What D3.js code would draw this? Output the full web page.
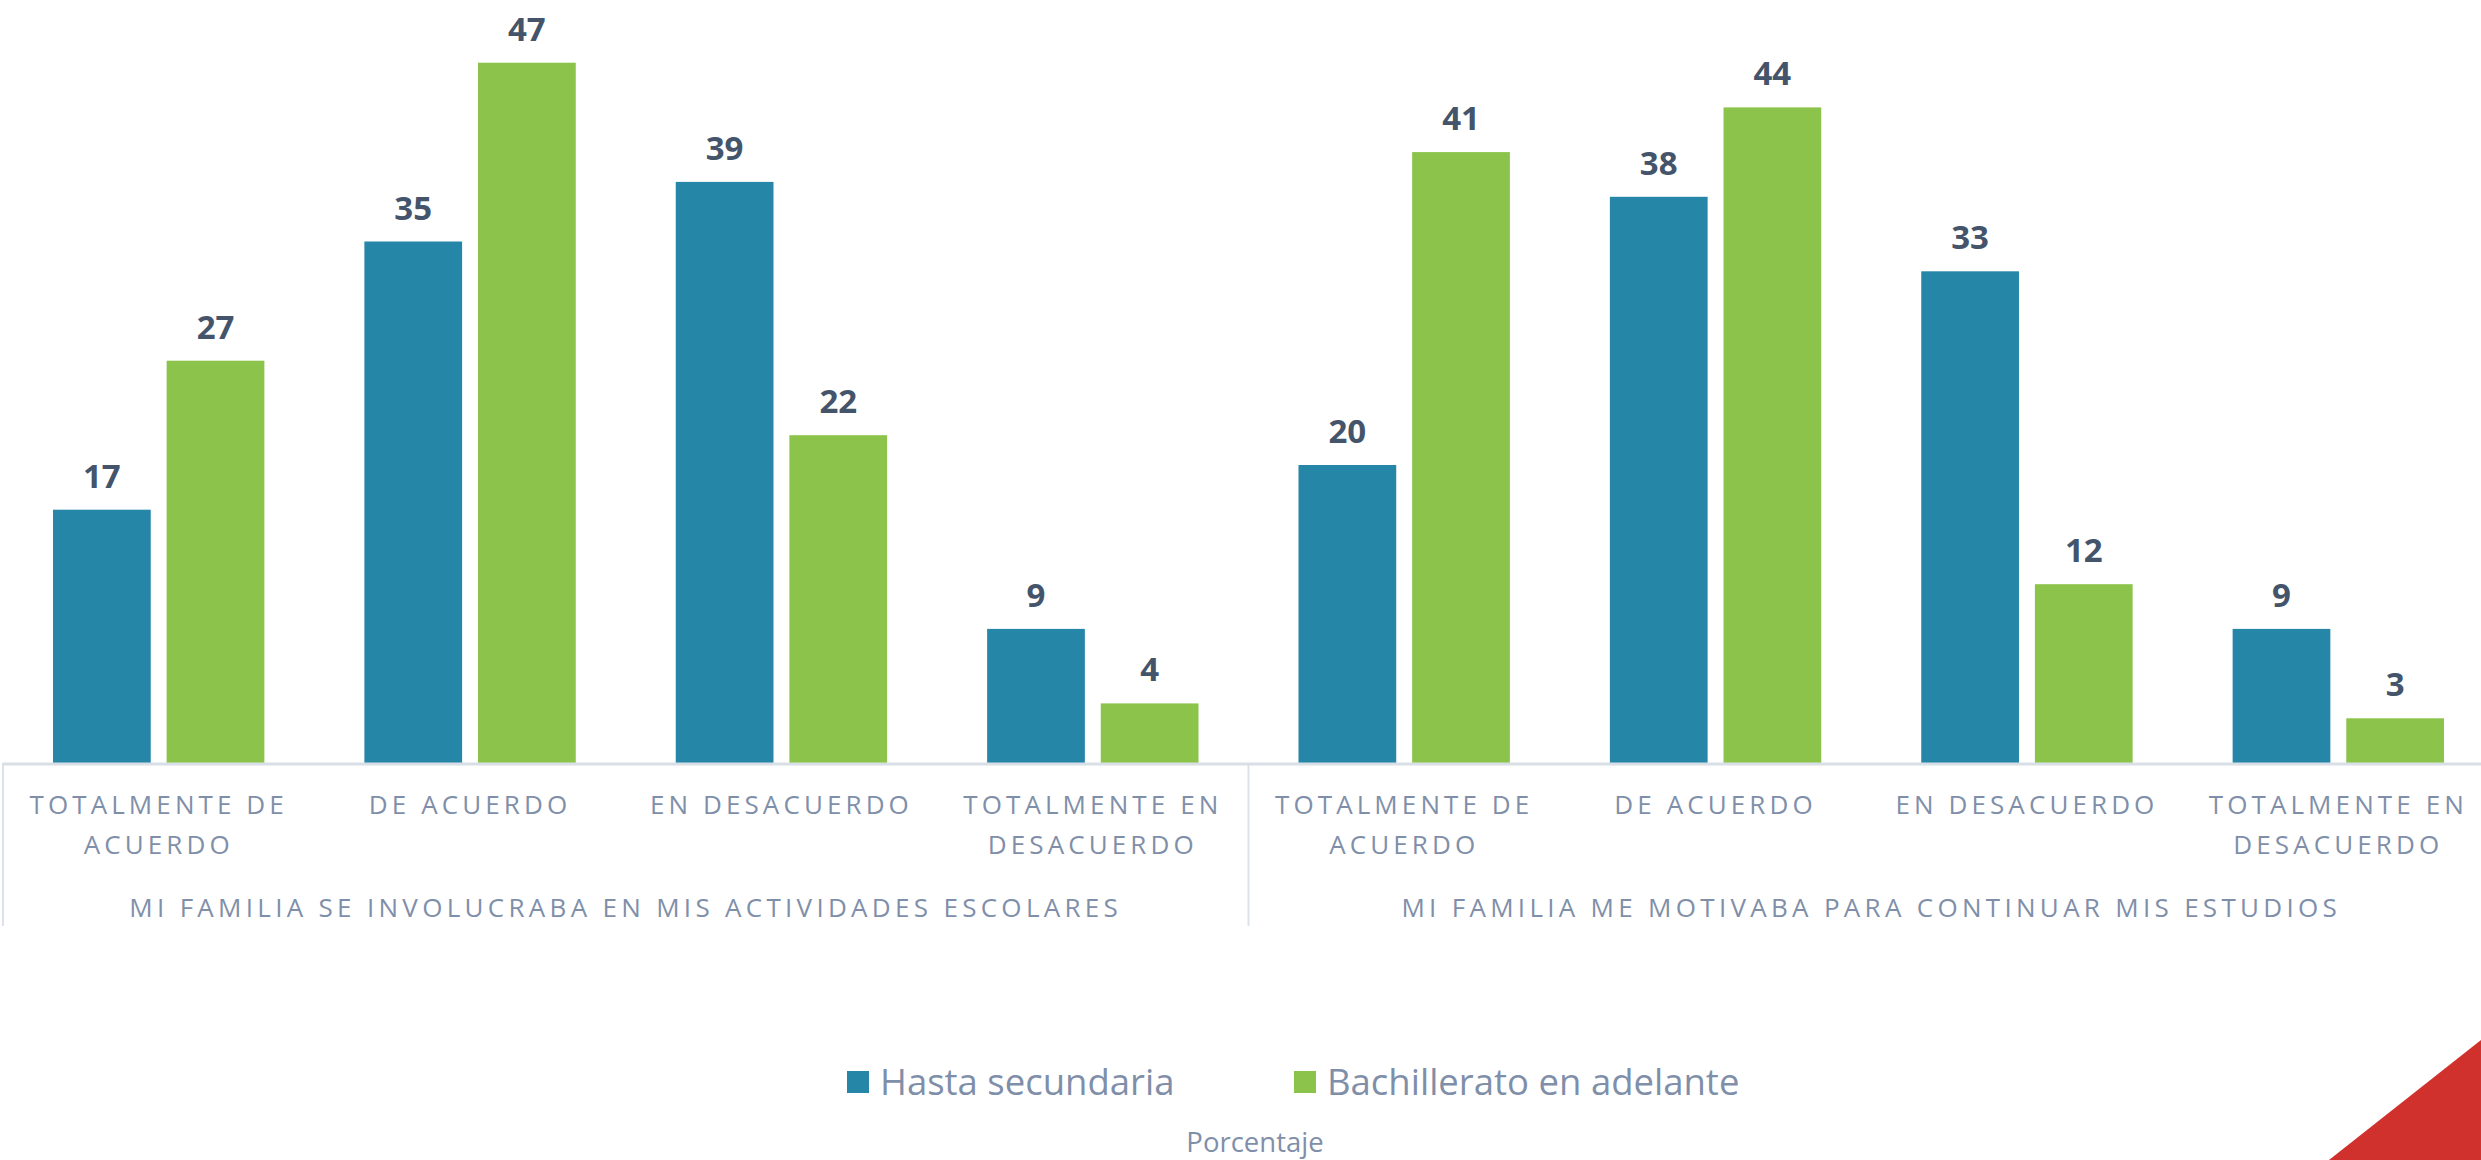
<!DOCTYPE html>
<html><head><meta charset="utf-8">
<script src="https://cdn.jsdelivr.net/npm/d3@7"></script>
<style>html,body{margin:0;padding:0;background:#fff;overflow:hidden}</style>
</head><body>
<svg id="c" width="2481" height="1160"></svg>
<script>
const panels = ["MI FAMILIA SE INVOLUCRABA EN MIS ACTIVIDADES ESCOLARES", "MI FAMILIA ME MOTIVABA PARA CONTINUAR MIS ESTUDIOS"];
const categories = [["TOTALMENTE DE", "ACUERDO"], ["DE ACUERDO"], ["EN DESACUERDO"], ["TOTALMENTE EN", "DESACUERDO"]];
const series = ["Hasta secundaria", "Bachillerato en adelante"];
const hastaSecundaria = [[17, 35, 39, 9], [20, 38, 33, 9]];
const bachillerato = [[27, 47, 22, 4], [41, 44, 12, 3]];
const colors = ["#2586a7", "#8cc34b"];
const footer = "Porcentaje";

const svg = d3.select("#c");
const baseY = 763;
const y = d3.scaleLinear().domain([0, 50]).range([baseY, baseY - 50 * 14.9]);
const xP = d3.scaleBand().domain(d3.range(panels.length)).range([3, 2494]);
const xC = d3.scaleBand().domain(d3.range(categories.length)).range([0, xP.bandwidth()]);
const xS = d3.scaleBand().domain(series).range([50, xC.bandwidth() - 50]).paddingInner(0.14);

const labFont = "'Open Sans', sans-serif";
const labColor = "#7f8fa9";

panels.forEach((p, pi) => {
  const g = svg.append("g").attr("transform", `translate(${xP(pi)},0)`);
  const vals = [hastaSecundaria[pi], bachillerato[pi]];
  categories.forEach((cat, ci) => {
    const cg = g.append("g").attr("transform", `translate(${xC(ci)},0)`);
    series.forEach((s, si) => {
      const v = vals[si][ci];
      cg.append("rect").attr("x", xS(s)).attr("y", y(v)).attr("width", xS.bandwidth())
        .attr("height", y(0) - y(v)).attr("fill", colors[si]);
      cg.append("text").attr("x", xS(s) + xS.bandwidth() / 2).attr("y", y(v) - 22)
        .attr("text-anchor", "middle").attr("font-family", labFont).attr("font-weight", 700)
        .attr("font-size", 33).attr("fill", "#44546a").text(v);
    });
    const t = cg.append("text").attr("x", xC.bandwidth() / 2).attr("y", 814)
      .attr("text-anchor", "middle").attr("font-family", labFont).attr("font-size", 26)
      .attr("letter-spacing", "4.1px").attr("fill", labColor);
    cat.forEach((line, li) => {
      t.append("tspan").attr("x", xC.bandwidth() / 2).attr("dy", li === 0 ? 0 : 39.5).text(line);
    });
  });
  g.append("text").attr("x", xP.bandwidth() / 2).attr("y", 917).attr("text-anchor", "middle")
    .attr("font-family", labFont).attr("font-size", 26).attr("letter-spacing", "4.3px")
    .attr("fill", labColor).text(p);
  g.append("line").attr("x1", 0).attr("x2", 0).attr("y1", baseY).attr("y2", 926)
    .attr("stroke", "#dde2e8").attr("stroke-width", 2);
});

svg.append("line").attr("x1", 3).attr("x2", 2481).attr("y1", baseY + 1).attr("y2", baseY + 1)
  .attr("stroke", "#d9dfe6").attr("stroke-width", 3);

// legend
const legX = [847, 1294];
series.forEach((s, si) => {
  svg.append("rect").attr("x", legX[si]).attr("y", 1071).attr("width", 22).attr("height", 22).attr("fill", colors[si]);
  svg.append("text").attr("x", legX[si] + 33).attr("y", 1095).attr("font-family", labFont)
    .attr("font-size", 36.5).attr("fill", labColor).text(s);
});
svg.append("text").attr("x", 1255).attr("y", 1152).attr("text-anchor", "middle").attr("font-family", labFont)
  .attr("font-size", 27.5).attr("fill", labColor).text(footer);

// decorative corner
svg.append("path").attr("d", "M2329,1160 L2481,1040 L2481,1160 Z").attr("fill", "#d0312d");
</script>
</body></html>
